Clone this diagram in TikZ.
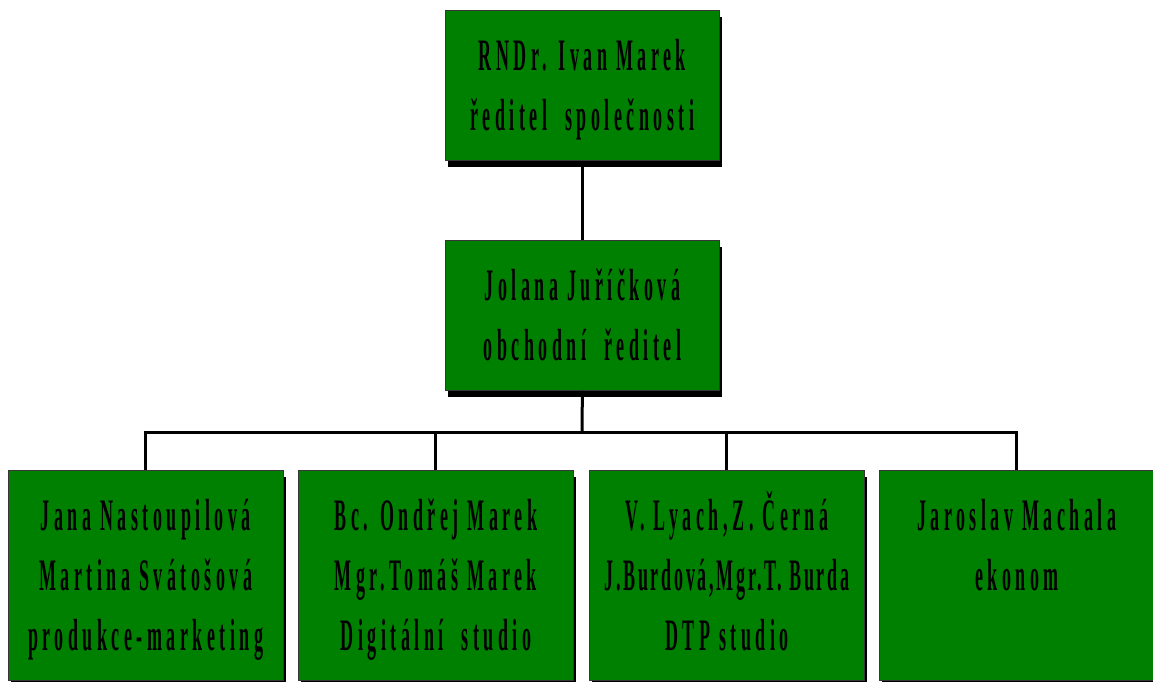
\documentclass[tikz,border=0pt]{standalone}
\usepackage{fontspec}
\usetikzlibrary{shadows}
\newfontfamily\czfont[FakeStretch=0.40, LetterSpace=10]{Liberation Serif}
\definecolor{boxgreen}{RGB}{0,128,0}
\definecolor{boxedge}{RGB}{55,55,55}
\begin{document}
\begin{tikzpicture}[x=1pt,y=-1pt,
  box/.style={draw=boxedge, line width=0.8pt, fill=boxgreen, inner sep=0pt, anchor=north west,
    general shadow={fill=black, shadow xshift=3pt, shadow yshift=-7pt}},
  topbox/.style={box, minimum width=274pt, minimum height=150pt},
  lowbox/.style={box, minimum width=275pt, minimum height=210pt},
  txt/.style={anchor=north, inner sep=0pt, align=center, text=black,
    font=\czfont\bfseries\fontsize{45}{60}\selectfont},
  conn/.style={line width=3pt, black}]
\useasboundingbox (0,0) rectangle (1153,682);
\clip (0,0) rectangle (1153,682);
\node[topbox] (top) at (445,10) {};
\node[topbox] (mid) at (445,240) {};
\node[lowbox] (b1) at (8,470) {};
\node[lowbox] (b2) at (298,470) {};
\node[lowbox] (b3) at (589,470) {};
\node[lowbox] (b4) at (879,470) {};
\coordinate (bus) at (582,432);
\draw[conn] (top.south) -- (mid.north);
\draw[conn] (mid.south) -- (bus);
\draw[conn] (b1.north) |- (bus) -| (b4.north);
\draw[conn] (b2.north) -- (b2.north |- bus);
\draw[conn] (b3.north) -- (b3.north |- bus);
\node[txt] (ttop) at (top.north) {\rule{0pt}{60pt}RNDr. Ivan Marek\\ředitel\ \ společnosti};
\node[txt] (tmid) at (mid.north) {\rule{0pt}{60pt}Jolana Juříčková\\obchodní\ \ ředitel};
\node[txt] (t1) at (b1.north) {\rule{0pt}{60pt}Jana Nastoupilová\\Martina Svátošová\\produkce-marketing};
\node[txt] (t2) at (b2.north) {\rule{0pt}{60pt}Bc. Ondřej Marek\\Mgr.Tomáš Marek\\Digitální\ \ studio};
\node[txt] (t3) at (b3.north) {\rule{0pt}{60pt}V. Lyach,Z. Černá\\{\addfontfeature{LetterSpace=6}J.Burdová,Mgr.T. Burda}\\DTP studio};
\node[txt] (t4) at (b4.north) {\rule{0pt}{60pt}Jaroslav Machala\\ekonom};
\end{tikzpicture}
\end{document}
